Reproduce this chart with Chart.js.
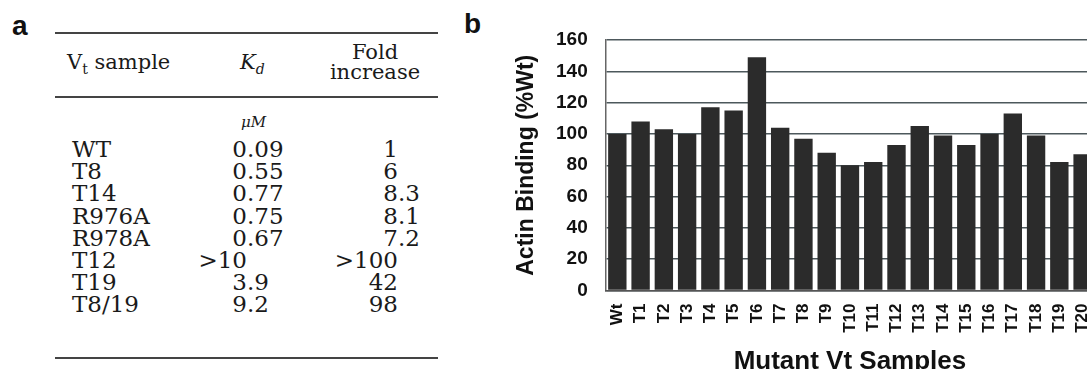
<!DOCTYPE html>
<html>
<head>
<meta charset="utf-8">
<script src="https://cdn.jsdelivr.net/npm/chart.js@4.4.1/dist/chart.umd.min.js"></script>
<style>
  html, body { margin:0; padding:0; background:#fff; width:1087px; height:369px; overflow:hidden; }
  .panel-label { position:absolute; font:bold 28px "Liberation Sans", Arial, sans-serif; color:#111; }
  #tbl { position:absolute; left:0; top:0; width:1087px; height:369px; font-family:"DejaVu Serif", serif; color:#1a1a1a; }
  .rule { position:absolute; left:55px; width:383px; height:2px; background:#444; }
  .cell { position:absolute; white-space:nowrap; font-size:23px; line-height:25px; }
  .hdr { position:absolute; white-space:nowrap; font-size:21px; line-height:20px; text-align:center; }
  #chart-bind { position:absolute; left:515px; top:0; }
</style>
</head>
<body>
<div class="panel-label" style="left:12px; top:10px;">a</div>
<div class="panel-label" style="left:464px; top:8px;">b</div>

<div id="tbl"></div>

<canvas id="chart-bind" width="601" height="377"></canvas>

<script>
// ─── TABLE DATA (panel a) ─────────────────────────────────────────────────────
const SAMPLES = ['WT', 'T8', 'T14', 'R976A', 'R978A', 'T12', 'T19', 'T8/19'];
const KD_VALUES = ['0.09', '0.55', '0.77', '0.75', '0.67', '>10', '3.9', '9.2'];
const FOLD_VALUES = ['1', '6', '8.3', '8.1', '7.2', '>100', '42', '98'];

// ─── CHART DATA (panel b) ─────────────────────────────────────────────────────
const MUTANTS = ['Wt','T1','T2','T3','T4','T5','T6','T7','T8','T9','T10',
                 'T11','T12','T13','T14','T15','T16','T17','T18','T19','T20'];
const BINDING = [100, 108, 103, 100, 117, 115, 149, 104, 97, 88, 80,
                 82, 93, 105, 99, 93, 100, 113, 99, 82, 87];

// ─── BUILD TABLE ──────────────────────────────────────────────────────────────
function splitDec(s) {
  const i = s.indexOf('.');
  return i < 0 ? [s, ''] : [s.substring(0, i), s.substring(i)];
}
function esc(s) { return s.replace(/&/g,'&amp;').replace(/</g,'&lt;').replace(/>/g,'&gt;'); }

function renderTable() {
  const t = document.getElementById('tbl');
  let h = '';
  [32, 96, 357].forEach(y => { h += `<div class="rule" style="top:${y}px"></div>`; });
  // header
  h += `<div class="hdr" style="left:67px; top:52px; text-align:left;">V<sub style="font-size:14px">t</sub> sample</div>`;
  h += `<div class="hdr" style="left:240px; top:52px; font-style:italic;">K<sub style="font-size:14px">d</sub></div>`;
  h += `<div class="hdr" style="left:325px; top:42px; width:100px;">Fold<br>increase</div>`;
  h += `<div class="cell" style="left:241px; top:110px; font-size:15px; font-style:italic;">μM</div>`;
  const KD_DOT = 247, FOLD_DOT = 398;
  SAMPLES.forEach((s, i) => {
    const y = 137 + i * 22.2;
    h += `<div class="cell" style="left:72px; top:${y}px;">${esc(s)}</div>`;
    const [ki, kf] = splitDec(KD_VALUES[i]);
    h += `<div class="cell" style="right:${1087 - KD_DOT}px; top:${y}px;">${esc(ki)}</div>`;
    if (kf) h += `<div class="cell" style="left:${KD_DOT}px; top:${y}px;">${kf}</div>`;
    const [fi, ff] = splitDec(FOLD_VALUES[i]);
    h += `<div class="cell" style="right:${1087 - FOLD_DOT}px; top:${y}px;">${esc(fi)}</div>`;
    if (ff) h += `<div class="cell" style="left:${FOLD_DOT}px; top:${y}px;">${ff}</div>`;
  });
  t.innerHTML = h;
}

// ─── RENDER CHART ─────────────────────────────────────────────────────────────
function renderChart() {
  const ctx = document.getElementById('chart-bind').getContext('2d');
  new Chart(ctx, {
    type: 'bar',
    data: {
      labels: MUTANTS,
      datasets: [{ data: BINDING, backgroundColor: '#2b2b2b', borderWidth: 0,
                   barPercentage: 0.79, categoryPercentage: 1.0 }]
    },
    options: {
      responsive: false, animation: false,
      layout: { padding: { top: 40, right: 0, bottom: 0, left: 0 } },
      plugins: { legend: { display: false }, tooltip: { enabled: false } },
      scales: {
        y: {
          min: 0, max: 160,
          ticks: { stepSize: 20, padding: 18, color: '#111',
                   font: { family: 'Liberation Sans', weight: 'bold', size: 19 } },
          grid: { color: '#4d585c', lineWidth: 1.5, drawTicks: false },
          border: { color: '#666', width: 1.5 },
          title: { display: true, text: 'Actin Binding (%Wt)', color: '#111', padding: 0,
                   font: { family: 'Liberation Sans', weight: 'bold', size: 23, lineHeight: 1.0 } }
        },
        x: {
          ticks: { minRotation: 90, maxRotation: 90, padding: 13, color: '#111', autoSkip: false,
                   font: { family: 'Liberation Sans', weight: 'bold', size: 17 } },
          grid: { display: false, drawTicks: false },
          border: { color: '#555', width: 1.5 },
          title: { display: true, text: 'Mutant Vt Samples', color: '#111', padding: 0,
                   font: { family: 'Liberation Sans', weight: 'bold', size: 26 } }
        }
      }
    }
  });
}

renderTable();
renderChart();
</script>
</body>
</html>
